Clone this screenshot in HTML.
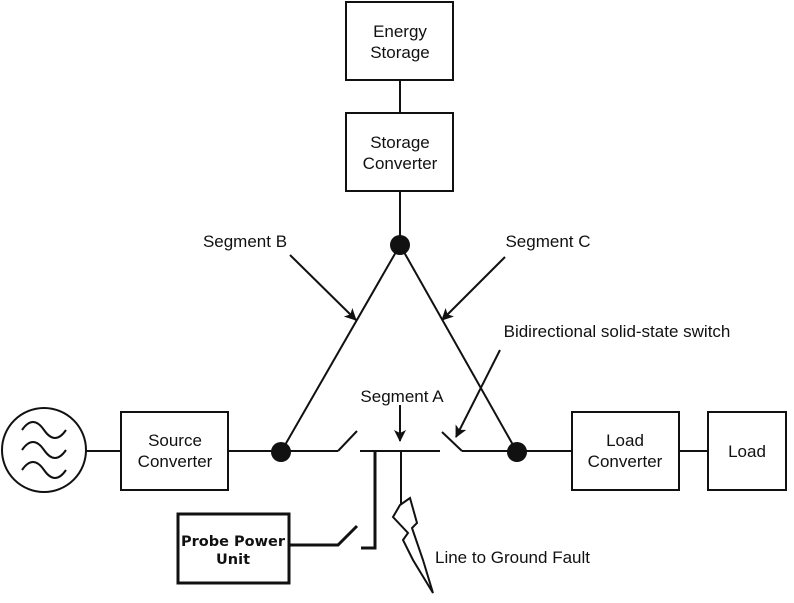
<!DOCTYPE html>
<html><head><style>
body{margin:0;background:#fff;width:794px;height:598px;overflow:hidden}
svg text{font-family:"Liberation Sans",sans-serif;font-size:17px;fill:#111}
</style></head><body>
<svg width="794" height="598" viewBox="0 0 794 598" xmlns="http://www.w3.org/2000/svg">
<defs><marker id="a" markerWidth="12" markerHeight="12" refX="11" refY="6" orient="auto" markerUnits="userSpaceOnUse"><path d="M0,0 L12,6 L0,12 L3,6 Z" fill="#111"/></marker></defs>
<g stroke="#111" stroke-width="2" fill="none">
<circle cx="44" cy="450" r="42"/>
<path d="M22,430 q11,-16 22,0 t22,0 M22,450 q11,-16 22,0 t22,0 M22,470 q11,-16 22,0 t22,0"/>
<rect x="121" y="412" width="107" height="78"/>
<rect x="572" y="412" width="107" height="78"/>
<rect x="708" y="412" width="78" height="78"/>
<rect x="346" y="2" width="107" height="78"/>
<rect x="346" y="113" width="107" height="78"/>
<line x1="86" y1="451" x2="121" y2="451"/>
<line x1="228" y1="451" x2="338" y2="451"/>
<line x1="338" y1="451" x2="357" y2="431"/>
<line x1="360" y1="451" x2="440" y2="451"/>
<line x1="442" y1="432" x2="462" y2="451"/>
<line x1="462" y1="451" x2="572" y2="451"/>
<line x1="679" y1="451" x2="708" y2="451"/>
<line x1="400" y1="80" x2="400" y2="113"/>
<line x1="400" y1="191" x2="400" y2="245"/>
<line x1="400" y1="245" x2="281" y2="452"/>
<line x1="400" y1="245" x2="517" y2="452"/>
<polyline points="375,451 375,548 361,548" stroke-width="3"/>
<line x1="401" y1="451" x2="401" y2="505"/>
<polygon points="400,505 410,498 417,523 412,528 423,560 433,593 413,560 403,540 408,533 393,517" stroke-width="2"/>
<rect x="178" y="514" width="111" height="69" stroke-width="3"/>
<polyline points="289,545 338,545 357,526" stroke-width="3"/>
<line x1="290" y1="255" x2="356" y2="320" marker-end="url(#a)"/>
<line x1="505" y1="257" x2="442" y2="320" marker-end="url(#a)"/>
<line x1="500" y1="350" x2="456" y2="437" marker-end="url(#a)"/>
<line x1="400" y1="405" x2="400" y2="441" marker-end="url(#a)"/>
</g>
<circle cx="281" cy="452" r="10" fill="#111"/>
<circle cx="517" cy="452" r="10" fill="#111"/>
<circle cx="400" cy="245" r="10" fill="#111"/>
<g text-anchor="middle">
<text x="400" y="37">Energy</text><text x="400" y="58">Storage</text>
<text x="400" y="148">Storage</text><text x="400" y="169">Converter</text>
<text x="175" y="446">Source</text><text x="175" y="467">Converter</text>
<text x="625" y="446">Load</text><text x="625" y="467">Converter</text>
<text x="747" y="457">Load</text>
<text x="245" y="247">Segment B</text>
<text x="548" y="247">Segment C</text>
<text x="402" y="402">Segment A</text>
<text x="617" y="337">Bidirectional solid-state switch</text>
<text x="233" y="546" style="font-family:'DejaVu Sans',sans-serif;font-weight:bold;font-size:14.5px">Probe Power</text>
<text x="233" y="564" style="font-family:'DejaVu Sans',sans-serif;font-weight:bold;font-size:14.5px">Unit</text>
</g>
<text x="435" y="563">Line to Ground Fault</text>
</svg>
</body></html>
